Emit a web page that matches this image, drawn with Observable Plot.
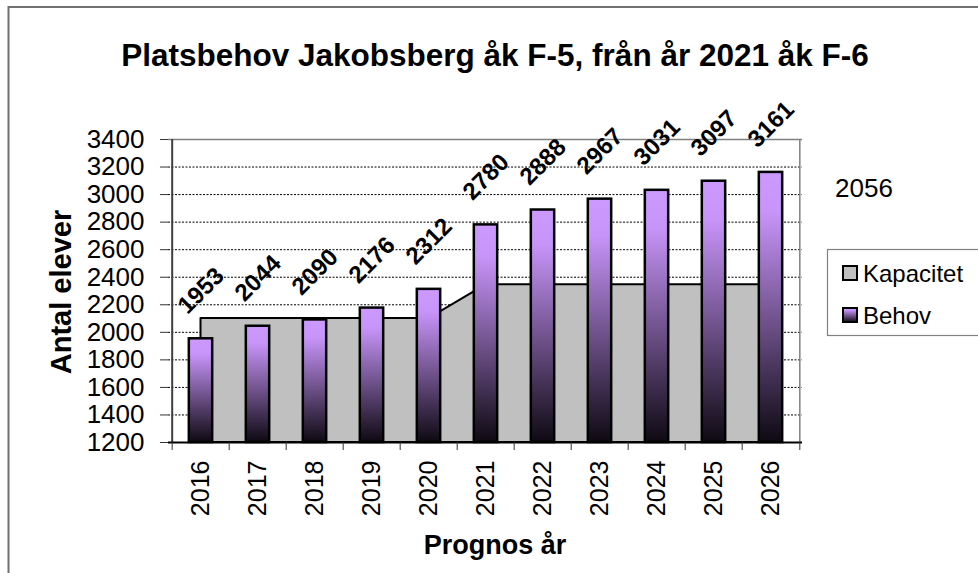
<!DOCTYPE html>
<html>
<head>
<meta charset="utf-8">
<script src="https://cdn.jsdelivr.net/npm/d3@7"></script>
<script src="https://cdn.jsdelivr.net/npm/@observablehq/plot@0.6"></script>
<style>
html, body { margin: 0; padding: 0; background: #fff; }
#chart { position: relative; width: 978px; height: 573px; overflow: hidden; background: #fff; }
</style>
</head>
<body>
<div id="chart"></div>
<script>
// ---- data ----
const years = ["2016", "2017", "2018", "2019", "2020", "2021", "2022", "2023", "2024", "2025", "2026"];
const behov = [1953, 2044, 2090, 2176, 2312, 2780, 2888, 2967, 3031, 3097, 3161];
const kapacitet = [2100, 2100, 2100, 2100, 2100, 2345, 2345, 2345, 2345, 2345, 2345];
const yTicks = [1200, 1400, 1600, 1800, 2000, 2200, 2400, 2600, 2800, 3000, 3200, 3400];
const yDomain = [1200, 3400];
const titleText = "Platsbehov Jakobsberg åk F-5, från år 2021 åk F-6";
const xLabel = "Prognos år";
const yLabel = "Antal elever";
const seriesNames = ["Kapacitet", "Behov"];
const sideNote = "2056";

// ---- layout ----
const W = 978, H = 573;
const M = {left: 168, right: 176, top: 139, bottom: 131};
const FONT = "'Liberation Sans', Arial, Helvetica, sans-serif";
const step = (W - M.left - M.right) / years.length;
const barInset = (step - 24) / 2;
const gridTicks = yTicks.slice(1, -1);

const data = years.map((year, i) => ({year, behov: behov[i], kapacitet: kapacitet[i]}));

function gradientDefs() {
  const defs = d3.create("svg:defs");
  const g = defs.append("linearGradient").attr("id", "behovGrad")
    .attr("x1", 0).attr("y1", 0).attr("x2", 0).attr("y2", 1);
  g.append("stop").attr("offset", "0%").attr("stop-color", "#cc99ff");
  g.append("stop").attr("offset", "15%").attr("stop-color", "#c794f9");
  g.append("stop").attr("offset", "100%").attr("stop-color", "#0e0912");
  return defs.node();
}

const plot = Plot.plot({
  width: W,
  height: H,
  marginLeft: M.left,
  marginRight: M.right,
  marginTop: M.top,
  marginBottom: M.bottom,
  style: {fontFamily: FONT, background: "#fff", color: "#000", overflow: "visible"},
  x: {type: "band", domain: years, padding: 0},
  y: {domain: yDomain},
  marks: [
    gradientDefs,
    Plot.ruleY(gridTicks, {stroke: "#000", strokeWidth: 1, strokeDasharray: "2,1.5"}),
    Plot.areaY(data, {x: "year", y1: yDomain[0], y2: "kapacitet", fill: "#c0c0c0", stroke: "#000", strokeWidth: 2}),
    Plot.barY(data, {x: "year", y1: yDomain[0], y2: "behov", fill: "url(#behovGrad)", stroke: "#000", strokeWidth: 2.5, insetLeft: barInset, insetRight: barInset}),
    Plot.ruleY([yDomain[1]], {stroke: "#808080", strokeWidth: 1.5}),
    Plot.ruleX([years[years.length - 1]], {dx: step / 2, y1: yDomain[0], y2: yDomain[1], stroke: "#808080", strokeWidth: 1.5}),
    Plot.ruleX([years[0]], {dx: -step / 2, y1: yDomain[0], y2: yDomain[1], stroke: "#404040", strokeWidth: 2}),
    Plot.ruleY([yDomain[0]], {stroke: "#000", strokeWidth: 2}),
    Plot.axisY({ticks: yTicks, tickSize: 8, tickPadding: 16, tickFormat: "d", fontSize: 26, label: null, stroke: "#333"}),
    Plot.axisX({ticks: years, tickSize: 0, tickPadding: 18, rotate: -90, textAnchor: "end", lineAnchor: "middle", fontSize: 25, label: null}),
    Plot.axisX({ticks: years, tickSize: 8, tickFormat: () => "", dx: -step / 2, label: null, stroke: "#333"}),
    Plot.axisX({ticks: [years[years.length - 1]], tickSize: 8, tickFormat: () => "", dx: step / 2, label: null, stroke: "#333"}),
    Plot.text(data, {x: "year", y: "behov", text: d => String(d.behov), rotate: -45, dy: -48, fontSize: 24, fontWeight: "bold", textAnchor: "middle", lineAnchor: "middle", fill: "#000"})
  ]
});

document.getElementById("chart").appendChild(plot);

// ---- annotations: title, axis titles, legend, border ----
const svg = d3.select(plot);
svg.append("rect").attr("x", 8.5).attr("y", 7).attr("width", 1000).attr("height", 1000)
  .attr("fill", "none").attr("stroke", "#707070").attr("stroke-width", 2);

svg.append("text").attr("x", 495).attr("y", 66).attr("text-anchor", "middle")
  .attr("font-family", FONT).attr("font-size", 31.5).attr("font-weight", "bold").attr("fill", "#000")
  .text(titleText);

svg.append("text").attr("transform", "translate(71,292) rotate(-90)").attr("text-anchor", "middle")
  .attr("font-family", FONT).attr("font-size", 29).attr("font-weight", "bold").attr("fill", "#000")
  .text(yLabel);

svg.append("text").attr("x", 495).attr("y", 554).attr("text-anchor", "middle")
  .attr("font-family", FONT).attr("font-size", 27).attr("font-weight", "bold").attr("fill", "#000")
  .text(xLabel);

svg.append("text").attr("x", 835).attr("y", 197).attr("text-anchor", "start")
  .attr("font-family", FONT).attr("font-size", 26).attr("fill", "#000")
  .text(sideNote);

const leg = svg.append("g");
leg.append("rect").attr("x", 827.5).attr("y", 249.5).attr("width", 160).attr("height", 86)
  .attr("fill", "#fff").attr("stroke", "#808080").attr("stroke-width", 1.2);
const swatchFills = ["#c0c0c0", "url(#behovGrad)"];
const rowY = [273, 315];
seriesNames.forEach((name, i) => {
  leg.append("rect").attr("x", 843).attr("y", rowY[i] - 7).attr("width", 14).attr("height", 14)
    .attr("fill", swatchFills[i]).attr("stroke", "#000").attr("stroke-width", 2);
  leg.append("text").attr("x", 863).attr("y", rowY[i] + 8.5).attr("text-anchor", "start")
    .attr("font-family", FONT).attr("font-size", 24).attr("fill", "#000").text(name);
});
</script>
</body>
</html>
